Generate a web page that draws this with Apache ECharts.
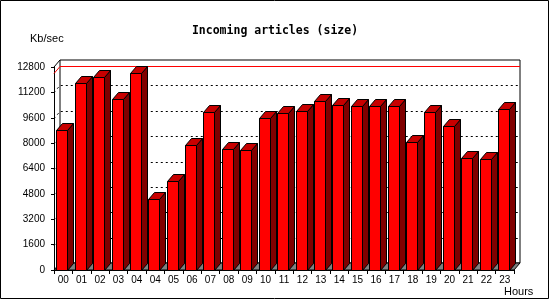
<!DOCTYPE html>
<html><head><meta charset="utf-8">
<script src="https://cdn.jsdelivr.net/npm/echarts@6/dist/echarts.min.js"></script>
<style>html,body{margin:0;padding:0;background:#fff}#c{width:550px;height:300px}</style>
</head><body><div id="c"></div>
<script>
// ---- data ----
const hours = ['00','01','02','03','04','04','05','06','07','08','09','10','11','12','13','14','15','16','17','18','19','20','21','22','23'];
const sizeKb = [8800,11780,12150,10780,12420,4460,5590,7880,9940,7610,7550,9570,9880,10010,10640,10390,10320,10320,10320,8050,9940,9060,7040,6980,10130];
const yTicks = [0,1600,3200,4800,6400,8000,9600,11200,12800];
const yMin = 0, yMax = 12800, yStep = 1600;
const titleText = 'Incoming articles (size)';
const yName = 'Kb/sec';
const xName = 'Hours';

// ---- style ----
const DX = 6, DY = 7;
const FRONT = '#ff0000', TOP = '#c80000', SIDE = '#800000', FLOOR = '#808080';
const maxVal = Math.max.apply(null, sizeKb);

const chart = echarts.init(document.getElementById('c'), null, {renderer: 'canvas'});

function backdrop(params, api) {
  const cs = params.coordSys;
  const x0 = cs.x, x1 = cs.x + cs.width, yb = cs.y + cs.height;
  const ytop = api.coord([0, yMax])[1];
  const children = [];
  children.push({type: 'polygon', shape: {points: [[x0+DX, ytop-DY],[x1+DX, ytop-DY],[x1+DX, yb-DY],[x0+DX, yb-DY]]},
    style: {fill: '#fff', stroke: '#000', lineWidth: 1}});
  children.push({type: 'polygon', shape: {points: [[x0, yb],[x1, yb],[x1+DX, yb-DY],[x0+DX, yb-DY]]},
    style: {fill: FLOOR, stroke: '#000', lineWidth: 1}});
  children.push({type: 'line', shape: {x1: x0, y1: ytop, x2: x0+DX, y2: ytop-DY}, style: {stroke: '#000', lineWidth: 1}});
  yTicks.forEach(function (t) {
    if (t === yMin || t === yMax) return;
    const y = Math.round(api.coord([0, t])[1]) + 0.5;
    children.push({type: 'polyline', shape: {points: [[x0, y],[x0+DX, y-DY],[x1+DX, y-DY]]},
      style: {stroke: '#000', lineWidth: 1, lineDash: [2, 3], fill: null}});
  });
  const ym = Math.round(api.coord([0, maxVal])[1]) + 0.5;
  children.push({type: 'polyline', shape: {points: [[x0, ym],[x0+DX, ym-DY],[x1+DX, ym-DY]]},
    style: {stroke: '#ff0000', lineWidth: 1, fill: null}});
  return {type: 'group', children: children};
}

function bar3d(params, api) {
  const i = api.value(0), v = api.value(1);
  const c = api.coord([i, v]);
  const base = api.coord([i, 0]);
  const band = api.size([1, 0])[0];
  const w = Math.round(band * 0.6);
  const left = Math.round(c[0] - band * 0.375) + 0.5;
  const top = Math.round(c[1]) + 0.5;
  const bot = Math.round(base[1]) + 0.5;
  const st = {stroke: '#000', lineWidth: 1};
  return {type: 'group', children: [
    {type: 'polygon', shape: {points: [[left+w, top],[left+w+DX, top-DY],[left+w+DX, bot-DY],[left+w, bot]]},
      style: Object.assign({fill: SIDE}, st)},
    {type: 'polygon', shape: {points: [[left, top],[left+w, top],[left+w+DX, top-DY],[left+DX, top-DY]]},
      style: Object.assign({fill: TOP}, st)},
    {type: 'rect', shape: {x: left, y: top, width: w, height: bot - top},
      style: Object.assign({fill: FRONT}, st)}
  ]};
}

chart.setOption({
  animation: false,
  backgroundColor: '#fff',
  title: {text: titleText, left: 'center', top: 20,
    textStyle: {fontFamily: 'DejaVu Sans Mono', fontWeight: 'bold', fontSize: 11.5, color: '#000'}},
  grid: {left: 54, right: 36, top: 67, bottom: 30},
  xAxis: {type: 'category', data: hours, boundaryGap: true,
    axisLine: {show: true, lineStyle: {color: '#000', width: 1}},
    axisTick: {show: true, length: 4, lineStyle: {color: '#000'}, alignWithLabel: false},
    axisLabel: {fontFamily: 'Liberation Sans', fontSize: 10, color: '#000', margin: 5, interval: 0},
    splitLine: {show: false}},
  yAxis: {type: 'value', min: yMin, max: yMax, interval: yStep,
    axisLine: {show: true, lineStyle: {color: '#000', width: 1}},
    axisTick: {show: true, length: 3, lineStyle: {color: '#000'}},
    axisLabel: {fontFamily: 'Liberation Sans', fontSize: 10, color: '#000', margin: 9,
      formatter: function (v) { return String(v); }},
    splitLine: {show: false}},
  graphic: [
    {type: 'rect', shape: {x: 0.5, y: 0.5, width: 548, height: 298}, style: {fill: null, stroke: '#000', lineWidth: 1}, z: 100},
    {type: 'text', left: 30, top: 33, style: {text: yName, fontFamily: 'Liberation Sans', fontSize: 11, fill: '#000'}},
    {type: 'text', left: 504, top: 286, style: {text: xName, fontFamily: 'Liberation Sans', fontSize: 11, fill: '#000'}}
  ],
  series: [
    {type: 'custom', renderItem: backdrop, data: [[0, 0]], silent: true, z: 1, clip: false},
    {type: 'custom', renderItem: bar3d, data: sizeKb.map(function (v, i) { return [i, v]; }), z: 2, clip: false}
  ]
});
</script></body></html>
